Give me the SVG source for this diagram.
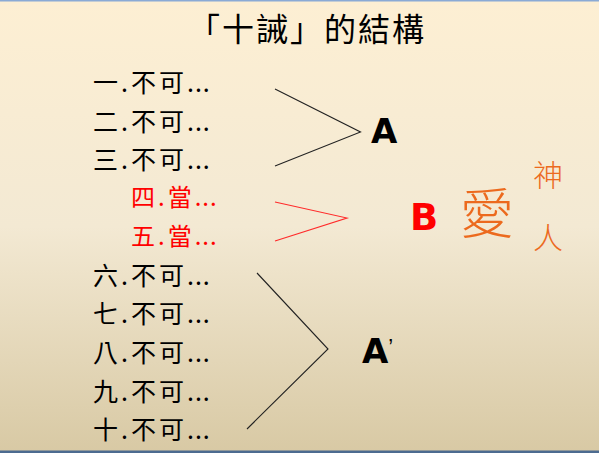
<svg xmlns="http://www.w3.org/2000/svg" width="599" height="453" viewBox="0 0 599 453">
<defs>
<linearGradient id="bg" x1="0" y1="0" x2="0" y2="1">
<stop offset="0" stop-color="#fdefd3"/>
<stop offset="0.5" stop-color="#f3e9d3"/>
<stop offset="1" stop-color="#d8c9a4"/>
</linearGradient>
</defs>
<style>
.t{font-family:"Noto Sans CJK TC","Noto Sans CJK SC",sans-serif;}
.item{font-size:25px;letter-spacing:3px;fill:#000;}
.red{font-size:24px;letter-spacing:3px;fill:#ff0000;}
.d{letter-spacing:1px;}
.lab{font-family:"DejaVu Sans",sans-serif;font-weight:bold;}
.or{fill:#ec6a1e;}
.ln{fill:none;stroke:#222;stroke-width:1.1;}
.lr{fill:none;stroke:#ff2a2a;stroke-width:1.1;}
</style>
<rect x="0" y="0" width="599" height="453" fill="url(#bg)"/>
<rect x="0" y="0" width="599" height="1.5" fill="#8aaad5"/>
<rect x="0" y="450.5" width="599" height="2.5" fill="#4c6b90"/>

<g id="title"><text class="t" x="307" y="41" font-size="32" letter-spacing="2" text-anchor="middle" fill="#000">「十誡」的結構</text></g>

<g id="item1"><text class="t item" x="93" y="92">一.不可<tspan class="d">...</tspan></text></g>
<g id="item2"><text class="t item" x="93" y="130.6">二.不可<tspan class="d">...</tspan></text></g>
<g id="item3"><text class="t item" x="93" y="169.2">三.不可<tspan class="d">...</tspan></text></g>
<g id="item4"><text class="t red" x="131" y="206">四.當<tspan class="d">...</tspan></text></g>
<g id="item5"><text class="t red" x="131" y="245">五.當<tspan class="d">...</tspan></text></g>
<g id="item6"><text class="t item" x="93" y="284.5">六.不可<tspan class="d">...</tspan></text></g>
<g id="item7"><text class="t item" x="93" y="323.3">七.不可<tspan class="d">...</tspan></text></g>
<g id="item8"><text class="t item" x="93" y="362">八.不可<tspan class="d">...</tspan></text></g>
<g id="item9"><text class="t item" x="93" y="400.8">九.不可<tspan class="d">...</tspan></text></g>
<g id="item10"><text class="t item" x="93" y="439.4">十.不可<tspan class="d">...</tspan></text></g>

<g id="labelA"><text class="lab" x="371" y="143" font-size="34" fill="#000">A</text></g>
<g id="labelB"><text class="lab" x="410" y="230" font-size="37" fill="#ff0000">B</text></g>
<g id="labelA2"><text x="362" y="363" font-size="34" fill="#000"><tspan class="lab">A</tspan><tspan font-family="Liberation Sans, sans-serif" font-size="22" dy="-9">’</tspan></text></g>

<g id="love"><text class="t or" x="487" y="234" font-size="54" font-weight="300" text-anchor="middle">愛</text></g>
<g id="god"><text class="t or" x="548" y="186" font-size="30" font-weight="300" text-anchor="middle" fill="#f06a1a">神</text></g>
<g id="man"><text class="t or" x="548" y="249" font-size="30" font-weight="300" text-anchor="middle" fill="#f06a1a">人</text></g>

<g id="connectors">
<polyline class="ln" points="275,89 360.5,132 275,166"/>
<polyline class="lr" points="275,202 347,218 275,241"/>
<polyline class="ln" points="257,273 328,349 247,429"/>
</g>
</svg>
